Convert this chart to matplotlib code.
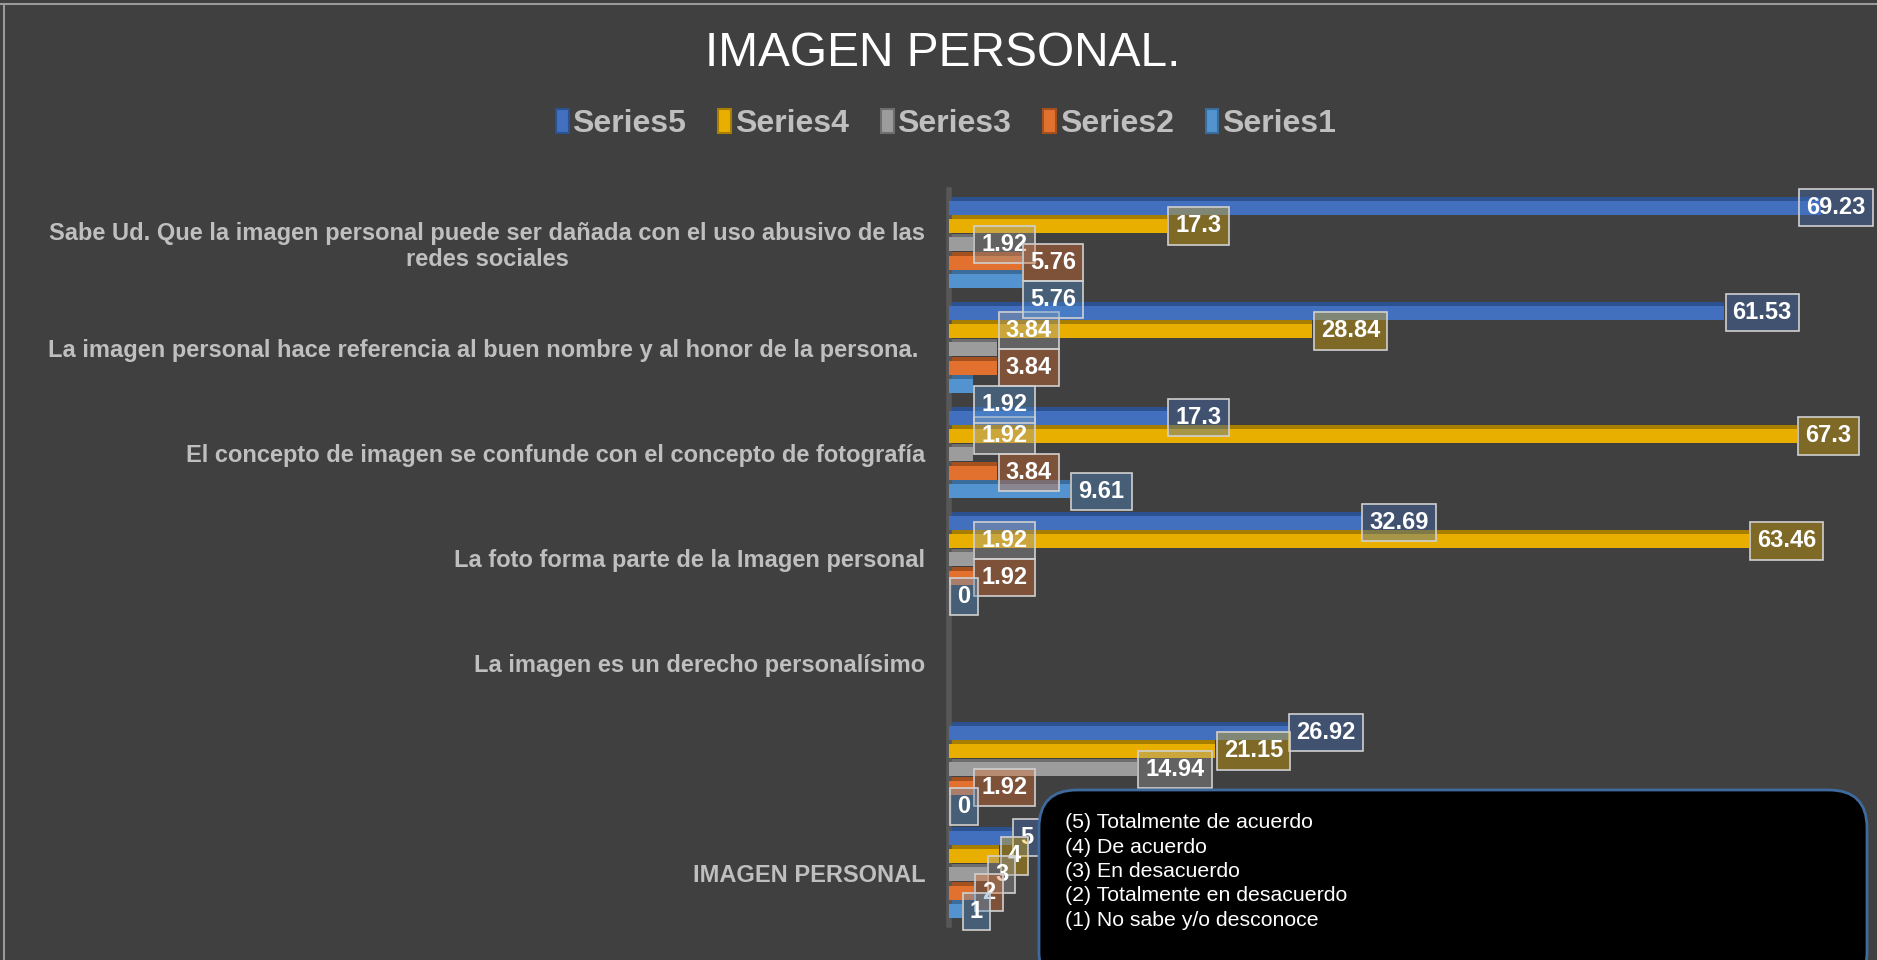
import numpy as np
import matplotlib.pyplot as plt
from matplotlib.patches import FancyBboxPatch
from matplotlib.transforms import IdentityTransform
from matplotlib.colors import to_rgba
from matplotlib.lines import Line2D

plt.rcParams['font.family'] = ['Liberation Sans', 'DejaVu Sans']

# ---- data (top to bottom as drawn) ----
categories = [
    "Sabe Ud. Que la imagen personal puede ser dañada con el uso abusivo de las\nredes sociales",
    "La imagen personal hace referencia al buen nombre y al honor de la persona. ",
    "El concepto de imagen se confunde con el concepto de fotografía",
    "La foto forma parte de la Imagen personal",
    "La imagen es un derecho personalísimo",
    "",
    "IMAGEN PERSONAL",
]
series_names = ["Series5", "Series4", "Series3", "Series2", "Series1"]
series5 = [69.23, 61.53, 17.3, 32.69, np.nan, 26.92, 5]
series4 = [17.3, 28.84, 67.3, 63.46, np.nan, 21.15, 4]
series3 = [1.92, 3.84, 1.92, 1.92, np.nan, 14.94, 3]
series2 = [5.76, 3.84, 3.84, 1.92, np.nan, 1.92, 2]
series1 = [5.76, 1.92, 9.61, 0, np.nan, 0, 1]
scale_notes = [
    "(5) Totalmente de acuerdo",
    "(4) De acuerdo",
    "(3) En desacuerdo",
    "(2) Totalmente en desacuerdo",
    "(1) No sabe y/o desconoce",
]

all_series = [series5, series4, series3, series2, series1]
colors = ["#4270BF", "#E8AE00", "#9C9C9C", "#E2712F", "#5394D0"]
tops = ["#2C5190", "#A87E00", "#6E6E6E", "#A5501F", "#3A6C9C"]
bg = "#404040"
text_grey = "#BFBFBF"

W, H = 1877, 960
fig = plt.figure(figsize=(W / 100, H / 100), dpi=100, facecolor=bg)
ax = fig.add_axes([949 / W, 1 - 925 / H, (1831 - 949) / W, (925 - 190) / H])
ax.set_facecolor(bg)

step = 0.175
bar_h = 0.135
top_h = 0.035
idx = np.arange(len(categories))

groups = {}
for j, (name, vals, col, tcol) in enumerate(zip(series_names, all_series, colors, tops)):
    vals = np.array(vals, dtype=float)
    y = idx + (j - 2) * step + top_h / 2
    ax.barh(y - bar_h / 2 - top_h / 2, vals, height=top_h, color=tcol, zorder=2)
    ax.barh(y, vals, height=bar_h, color=col, label=name, zorder=3)
    for g, (yy, v) in enumerate(zip(y, vals)):
        if np.isnan(v):
            continue
        a = ax.annotate(f"{v:g}", (v, yy), xytext=(6, 0), textcoords="offset points",
                        ha="left", va="center", color="white", fontsize=17,
                        fontweight="bold", zorder=5, annotation_clip=False,
                        bbox=dict(boxstyle="square,pad=0.3", fc=to_rgba(col, 0.38),
                                  ec="#D0D0D0", lw=1.2))
        groups.setdefault(g, []).append((j, a))

ax.set_xlim(0, 70)
ax.set_ylim(len(categories) - 0.5, -0.5)
ax.set_yticks(idx)
ax.set_yticklabels(categories, color=text_grey, fontsize=17, fontweight="bold")
for t in ax.get_yticklabels():
    t.set_multialignment("center")
    t.set_linespacing(1.15)
ax.tick_params(axis="y", length=0, pad=17)
ax.set_xticks([])
for s in ["top", "right", "bottom"]:
    ax.spines[s].set_visible(False)
ax.spines["left"].set_color("#575757")
ax.spines["left"].set_linewidth(4)

fig.text(943 / W, 1 - 54 / H, "IMAGEN PERSONAL.", color="white", fontsize=34.5,
         ha="center", va="center")

handles = [plt.Rectangle((0, 0), 1, 1, fc=c, ec=t, lw=1.5) for c, t in zip(colors, tops)]
leg = fig.legend(handles, series_names, loc="center", bbox_to_anchor=(946 / W, 1 - 124 / H),
                 ncol=5, frameon=False, handlelength=0.4, handleheight=0.8,
                 handletextpad=0.12, columnspacing=1.0,
                 prop=dict(size=23, weight="bold"))
for t in leg.get_texts():
    t.set_color(text_grey)

# thin light frame at top / left edge
fig.add_artist(Line2D([0, 1], [1 - 4 / H, 1 - 4 / H], color="#9A9A9A", lw=1.5))
fig.add_artist(Line2D([4 / W, 4 / W], [0, 1 - 4 / H], color="#9A9A9A", lw=1.5))

# scale notes box (pixel coords)
box = FancyBboxPatch((1039, -30), 1867 - 1039, H - 790 + 30,
                     boxstyle="round,pad=0,rounding_size=38",
                     fc="black", ec="#3E6A9E", lw=2, transform=IdentityTransform(),
                     zorder=10)
fig.patches.append(box)
for k, line in enumerate(scale_notes):
    fig.text(1065 / W, 1 - (823 + 24.3 * k) / H, line, color="white", fontsize=15.3,
             ha="left", va="center", zorder=11)


def shift(a, dx_px=0.0, dy_px=0.0):
    x0, y0 = a.xyann
    a.xyann = (x0 + dx_px * 72 / fig.dpi, y0 + dy_px * 72 / fig.dpi)


# keep data labels inside the chart area (as the spreadsheet does)
fig.canvas.draw()
renderer = fig.canvas.get_renderer()
right_limit = 1873
for grp in groups.values():
    for _, a in grp:
        ext = a.get_bbox_patch().get_window_extent(renderer)
        if ext.x1 > right_limit:
            shift(a, dx_px=right_limit - ext.x1)

# nudge labels whose numbers sit on top of each other
for grp in groups.values():
    for k in range(1, len(grp)):
        (jp, prev), (jc, cur) = grp[k - 1], grp[k]
        fig.canvas.draw()
        tp, tc = prev.get_window_extent(renderer), cur.get_window_extent(renderer)
        x_ov = min(tp.x1, tc.x1) - max(tp.x0, tc.x0)
        if x_ov > 0.3 * min(tp.width, tc.width) and tp.y0 < tc.y1 and tc.y0 < tp.y1:
            bp = prev.get_bbox_patch().get_window_extent(renderer)
            bc = cur.get_bbox_patch().get_window_extent(renderer)
            overlap = bc.y1 - bp.y0
            if jp <= 2:
                shift(prev, dy_px=overlap)
            else:
                shift(cur, dy_px=-overlap)

fig.savefig("out.png", dpi=100, facecolor=bg)
